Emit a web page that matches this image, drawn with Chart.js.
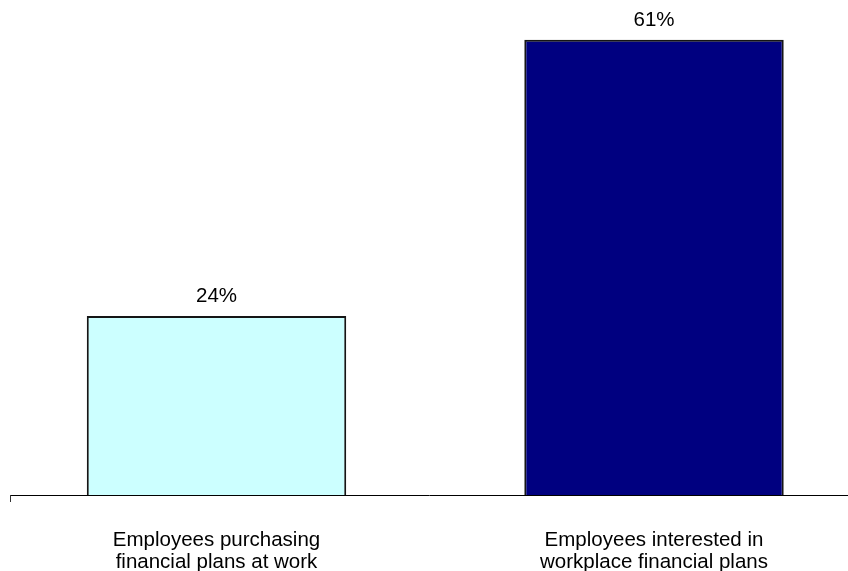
<!DOCTYPE html>
<html>
<head>
<meta charset="utf-8">
<script src="https://cdn.jsdelivr.net/npm/chart.js@4/dist/chart.umd.min.js"></script>
<style>
  html, body { margin: 0; padding: 0; background: #ffffff; }
  #wrap { width: 848px; height: 571px; }
</style>
</head>
<body>
<div id="wrap"><canvas id="chart" width="848" height="571"></canvas></div>
<script>
// Category labels (one array entry per line of text)
const categories = [
  ['Employees purchasing', 'financial plans at work'],
  ['Employees interested in', 'workplace financial plans']
];
// Share of employees, in percent
const values = [24, 61];
const barColors = ['#CCFFFF', '#000080'];

const FONT = '"Liberation Sans", Arial, Helvetica, sans-serif';
const FONT_SIZE = 20.5;

// Writes each bar's value above it
const valueLabels = {
  id: 'valueLabels',
  afterDatasetsDraw(chart) {
    const ctx = chart.ctx;
    const meta = chart.getDatasetMeta(0);
    ctx.save();
    ctx.font = FONT_SIZE + 'px ' + FONT;
    ctx.fillStyle = '#000000';
    ctx.textAlign = 'center';
    ctx.textBaseline = 'alphabetic';
    meta.data.forEach((bar, i) => {
      ctx.fillText(values[i] + '%', bar.x, bar.y - 14);
    });
    ctx.restore();
  }
};

// Short tick mark where the category axis starts
const axisStartTick = {
  id: 'axisStartTick',
  afterDraw(chart) {
    const { ctx, chartArea } = chart;
    ctx.save();
    ctx.strokeStyle = '#333333';
    ctx.lineWidth = 1;
    ctx.beginPath();
    ctx.moveTo(chartArea.left + 0.5, chartArea.bottom);
    ctx.lineTo(chartArea.left + 0.5, chartArea.bottom + 7);
    ctx.stroke();
    ctx.restore();
  }
};

new Chart(document.getElementById('chart'), {
  type: 'bar',
  data: {
    datasets: [{
      data: values.map((v, i) => ({ x: i, y: v })),
      backgroundColor: barColors,
      borderColor: '#151515',
      borderWidth: 2,
      categoryPercentage: 1,
      barPercentage: 0.593
    }]
  },
  options: {
    responsive: false,
    animation: false,
    devicePixelRatio: 1,
    layout: { padding: { left: 10, right: 0, top: 10, bottom: 0 } },
    plugins: {
      legend: { display: false },
      tooltip: { enabled: false }
    },
    scales: {
      x: {
        type: 'linear',
        offset: false,
        bounds: 'data',
        min: -0.472,
        max: 1.4434,
        // tick marks are hidden; their length only spaces the labels
        grid: { display: false, offset: false, drawTicks: true, tickLength: 36 },
        border: { display: true, color: '#000000', width: 1 },
        afterBuildTicks: (scale) => {
          scale.ticks = categories.map((c, i) => ({ value: i }));
        },
        ticks: {
          autoSkip: false,
          maxRotation: 0,
          minRotation: 0,
          padding: -2,
          color: '#000000',
          font: { family: FONT, size: FONT_SIZE, lineHeight: 22 / FONT_SIZE },
          callback: (v) => categories[v] || ''
        }
      },
      y: {
        display: false,
        min: 0,
        max: 65
      }
    }
  },
  plugins: [valueLabels, axisStartTick]
});
</script>
</body>
</html>
